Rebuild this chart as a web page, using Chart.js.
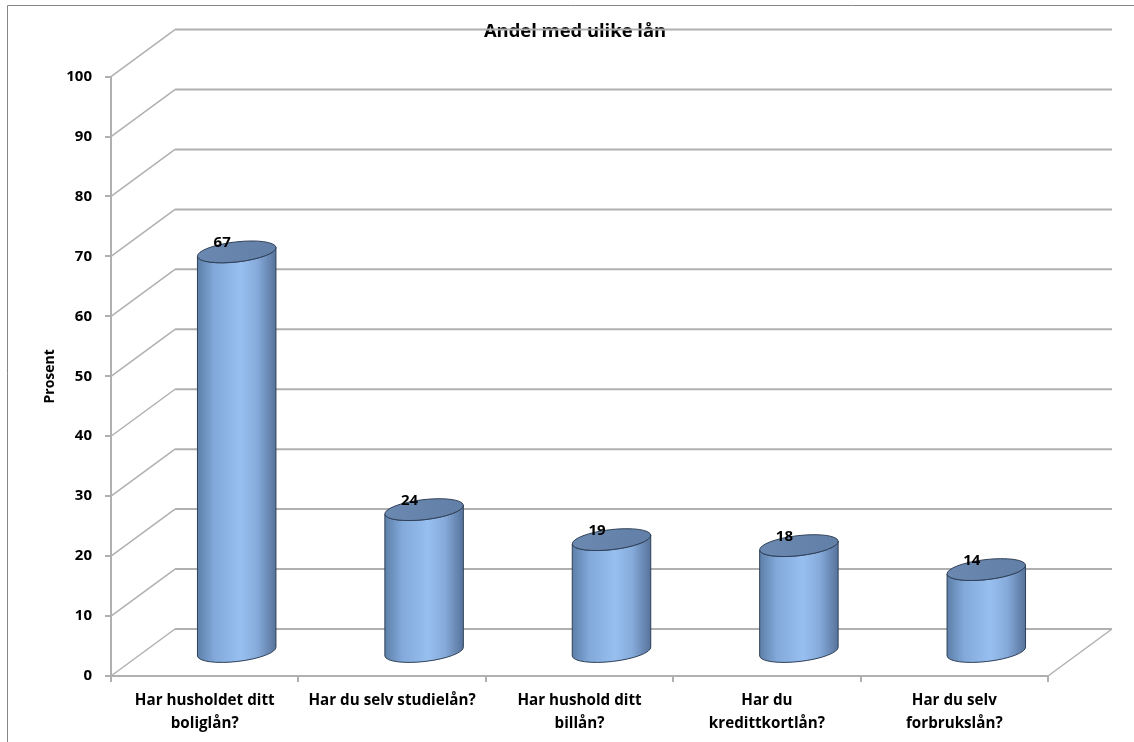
<!DOCTYPE html>
<html>
<head>
<meta charset="utf-8">
<title>Andel med ulike lån</title>
<script src="https://cdn.jsdelivr.net/npm/chart.js@4"></script>
<style>
    html, body { margin: 0; padding: 0; background: #fff; }
    #wrap { position: relative; width: 1134px; height: 742px; overflow: hidden; }
</style>
</head>
<body>
<div id="wrap"><canvas id="loanChart" width="1134" height="742"></canvas></div>
<script>
// Chart data
const categories = [
    ['Har husholdet ditt', 'boliglån?'],
    'Har du selv studielån?',
    ['Har hushold ditt', 'billån?'],
    ['Har du', 'kredittkortlån?'],
    ['Har du selv', 'forbrukslån?']
];
const shares = [67, 24, 19, 18, 14];
const axisMax = 100;
const axisStep = 10;

const FONT = '"Open Sans", sans-serif';
const GRID = '#b0b0b0';

// depth of the fake 3D box, in pixels
const DEPTH_X = 64;
const DEPTH_Y = 47;

// Back walls, floor and the receding gridlines
const walls = {
    id: 'walls',
    beforeDatasetsDraw(chart) {
        const { ctx, chartArea: a, scales: { y } } = chart;
        ctx.save();
        ctx.strokeStyle = GRID;
        y.ticks.forEach(t => {
            const py = y.getPixelForValue(t.value);
            ctx.lineWidth = 1.5;
            ctx.beginPath();
            ctx.moveTo(a.left, py);
            ctx.lineTo(a.left + DEPTH_X, py - DEPTH_Y);
            ctx.stroke();
            ctx.lineWidth = 2;
            ctx.beginPath();
            ctx.moveTo(a.left + DEPTH_X, py - DEPTH_Y);
            ctx.lineTo(a.right + DEPTH_X, py - DEPTH_Y);
            ctx.stroke();
            if (t.value === 0) {
                ctx.lineWidth = 1.5;
                ctx.beginPath();
                ctx.moveTo(a.right + DEPTH_X, py - DEPTH_Y);
                ctx.lineTo(a.right, py);
                ctx.stroke();
            }
        });
        ctx.restore();
    }
};

// Cylinders are placed from the bar elements, moved halfway into the box
const cylinders = {
    id: 'cylinders',
    afterDatasetsDraw(chart) {
        const { ctx } = chart;
        const bars = chart.getDatasetMeta(0).data;
        bars.forEach((bar, i) => {
            const cx = bar.x + DEPTH_X / 2;
            const top = bar.y - DEPTH_Y / 2 + 1;
            const base = bar.base - DEPTH_Y / 2;
            const rx = bar.width / 2;
            const ry = 10;
            const tilt = -0.115;

            const side = ctx.createLinearGradient(cx - rx, 0, cx + rx, 0);
            side.addColorStop(0, '#5d7fa8');
            side.addColorStop(0.22, '#82a9da');
            side.addColorStop(0.55, '#97bfef');
            side.addColorStop(0.76, '#86abdb');
            side.addColorStop(1, '#56729a');

            ctx.save();
            ctx.beginPath();
            ctx.ellipse(cx, top, rx, ry, tilt, Math.PI, 0, true);
            ctx.ellipse(cx, base, rx, ry, tilt, 0, Math.PI, false);
            ctx.closePath();
            ctx.fillStyle = side;
            ctx.fill();
            ctx.strokeStyle = '#2f4058';
            ctx.lineWidth = 1;
            ctx.stroke();

            const cap = ctx.createLinearGradient(cx - rx, 0, cx + rx, 0);
            cap.addColorStop(0, '#6a88b0');
            cap.addColorStop(1, '#6280a7');
            ctx.beginPath();
            ctx.ellipse(cx, top, rx, ry, tilt, 0, Math.PI * 2);
            ctx.fillStyle = cap;
            ctx.fill();
            ctx.stroke();

            // value label sits on the back left of the cap
            ctx.fillStyle = '#000';
            ctx.font = 'bold 15px ' + FONT;
            ctx.textAlign = 'center';
            ctx.textBaseline = 'middle';
            ctx.fillText(String(shares[i]), cx - 14.5, top - 9);
            ctx.restore();
        });
    }
};

// Outer frame (top and left only), and the title centred over the back wall
const frame = {
    id: 'frame',
    afterLayout(chart) {
        chart.titleBlock.left += 47;
        chart.titleBlock.right += 47;
    },
    beforeDraw(chart) {
        const { ctx } = chart;
        ctx.save();
        ctx.strokeStyle = '#868686';
        ctx.lineWidth = 1;
        ctx.beginPath();
        ctx.moveTo(7.5, 742);
        ctx.lineTo(7.5, 5.5);
        ctx.lineTo(1134, 5.5);
        ctx.stroke();
        ctx.restore();
    }
};

new Chart(document.getElementById('loanChart'), {
    type: 'bar',
    data: {
        labels: categories,
        datasets: [{
            label: 'Prosent',
            data: shares,
            backgroundColor: 'transparent',
            borderWidth: 0,
            barThickness: 79
        }]
    },
    plugins: [frame, walls, cylinders],
    options: {
        responsive: false,
        animation: false,
        layout: { padding: { left: 8, right: 86, top: 0, bottom: 6 } },
        plugins: {
            legend: { display: false },
            tooltip: { enabled: false },
            title: {
                display: true,
                text: 'Andel med ulike lån',
                color: '#000',
                font: { family: FONT, size: 18.4, weight: 'bold' },
                padding: { top: 20.5, bottom: 34 }
            }
        },
        scales: {
            x: {
                afterFit(s) { s.height = 60; },
                border: { color: GRID, width: 2 },
                grid: { drawOnChartArea: false, color: GRID, tickLength: 6, lineWidth: 2 },
                ticks: {
                    color: '#000',
                    maxRotation: 0,
                    padding: 7,
                    font: { family: FONT, size: 15.2, weight: 'bold', lineHeight: 1.5 }
                }
            },
            y: {
                min: 0,
                max: axisMax,
                afterFit(s) { s.width = 103; },
                border: { color: GRID, width: 2 },
                grid: { drawOnChartArea: false, color: GRID, tickLength: 6, lineWidth: 2 },
                ticks: {
                    stepSize: axisStep,
                    color: '#000',
                    padding: 13,
                    font: { family: FONT, size: 15, weight: 'bold' }
                },
                title: {
                    display: true,
                    text: 'Prosent',
                    color: '#000',
                    padding: { top: 34, bottom: 4 },
                    font: { family: FONT, size: 14, weight: 'bold' }
                }
            }
        }
    }
});
</script>
</body>
</html>
